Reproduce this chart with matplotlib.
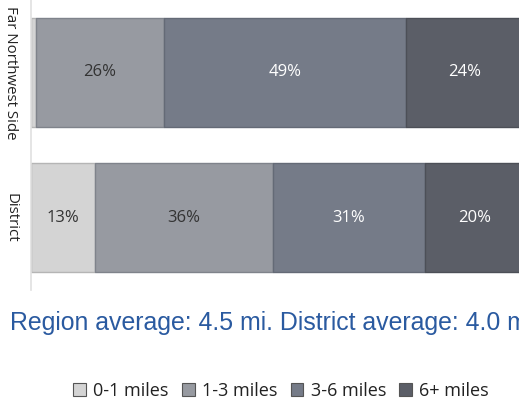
import matplotlib.pyplot as plt
import numpy as np

plt.rcParams['font.family'] = ['Open Sans', 'DejaVu Sans']

groups = ['Far Northwest Side', 'District']
bands = ['0-1 miles', '1-3 miles', '3-6 miles', '6+ miles']
shares = {
    '0-1 miles': [1, 13],
    '1-3 miles': [26, 36],
    '3-6 miles': [49, 31],
    '6+ miles': [24, 20],
}
colors = ['#d4d4d4', '#979aa1', '#757b88', '#5b5e67']
edges = ['#b5b5b5', '#7f838b', '#646a76', '#4c4f57']
text_colors = ['#333333', '#333333', 'white', 'white']
note = 'Region average: 4.5 mi. District average: 4.0 mi.'

fig = plt.figure(figsize=(5.19, 4.08), dpi=100)
ax = fig.add_axes([31 / 519, 1 - 290 / 408, 1 - 31 / 519, 290 / 408])

y = np.arange(len(groups))
left = np.zeros(len(groups))
for band, c, ec, tc in zip(bands, colors, edges, text_colors):
    vals = np.array(shares[band], dtype=float)
    ax.barh(y, vals, left=left, height=0.75, color=c, edgecolor=ec, linewidth=1)
    for yi, v, l in zip(y, vals, left):
        if v >= 5:
            ax.text(l + v / 2, yi, f'{v:.0f}%', ha='center', va='center',
                    fontsize=12, color=tc)
    left += vals

ax.set_ylim(1.5, -0.5)
ax.set_xlim(0, 99)
for s in ['top', 'right', 'bottom']:
    ax.spines[s].set_visible(False)
ax.spines['left'].set_color('#e0e0e0')
ax.spines['left'].set_linewidth(1.2)
ax.set_xticks([])
ax.set_yticks([])

for yi, g in zip(y, groups):
    ax.text(-0.042, yi, g, transform=ax.get_yaxis_transform(), rotation=-90,
            ha='center', va='center', fontsize=10.8, color='#222222')

# the note runs past the right edge of the figure
fig.text(10 / 519, 1 - 323 / 408, note, fontsize=17.9, color='#2a5aa0',
         family='Liberation Sans', va='center', ha='left')

handles = [plt.Rectangle((0, 0), 1, 1, facecolor=c, edgecolor='#555555', linewidth=0.8)
           for c in colors]
fig.legend(handles, bands, loc='center', bbox_to_anchor=(281 / 519, 1 - 391 / 408),
           ncol=4, frameon=False, fontsize=13, handlelength=0.7, handleheight=0.7,
           handletextpad=0.4, columnspacing=0.75, labelcolor='#222222')

fig.savefig('out.png', dpi=100)
